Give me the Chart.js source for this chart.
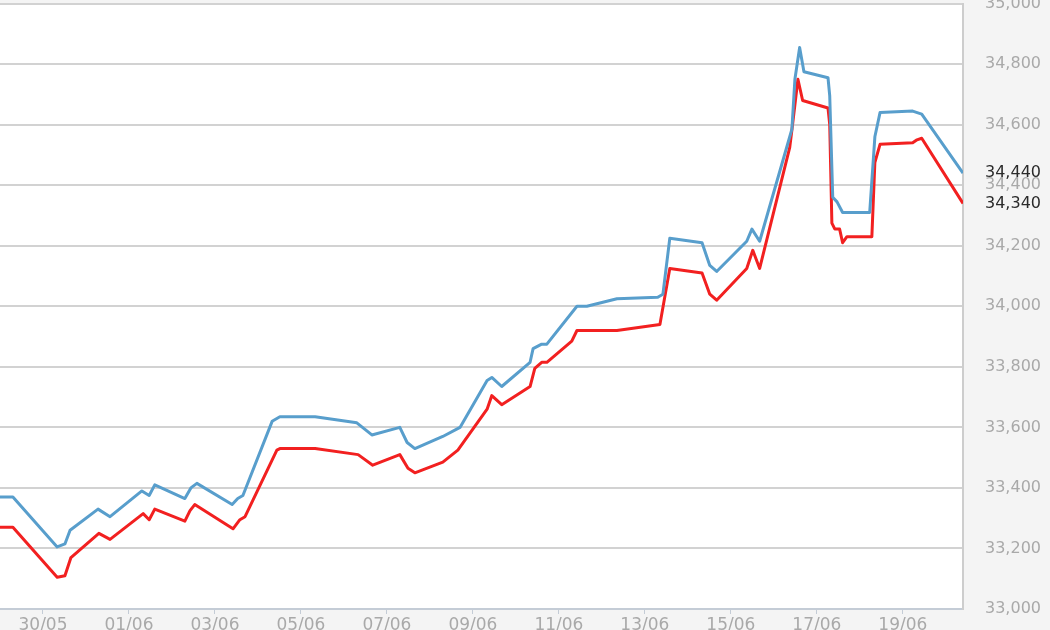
<!DOCTYPE html>
<html>
<head>
<meta charset="utf-8">
<script src="https://cdn.jsdelivr.net/npm/chart.js@4.4.1/dist/chart.umd.min.js"></script>
<style>
html, body { margin: 0; padding: 0; background: #f4f4f4; }
#wrap { position: relative; width: 1050px; height: 630px; overflow: hidden; }
#chart { position: absolute; left: 0; top: -6px; }
</style>
</head>
<body>
<div id="wrap"><canvas id="chart" width="1050" height="636"></canvas></div>
<script>
// x values are days counted from 30/05
var tickDays = [0, 2, 4, 6, 8, 10, 12, 14, 16, 18, 20];
var tickLabels = ['30/05', '01/06', '03/06', '05/06', '07/06', '09/06', '11/06', '13/06', '15/06', '17/06', '19/06'];

var blueDays = [-1, -0.7, 0.33, 0.51, 0.63, 1.28, 1.56, 2.3, 2.47, 2.6, 3.3, 3.44, 3.58, 4.4, 4.53, 4.65,
    5.33, 5.51, 6.33, 7.3, 7.65, 8.3, 8.47, 8.65, 9.3, 9.7, 10.33, 10.44, 10.67, 11.33, 11.4, 11.6, 11.72,
    12.42, 12.65, 13.35, 14.3, 14.42, 14.58, 15.33, 15.51, 15.67, 16.37, 16.49, 16.67, 17.42, 17.49, 17.6,
    17.7, 18.26, 18.3, 18.37, 18.47, 18.6, 18.7, 19.23, 19.35, 19.47, 20.23, 20.44, 21.4];
var blueValues = [33370, 33370, 33205, 33215, 33260, 33330, 33305, 33390, 33375, 33410, 33365, 33400, 33415, 33345, 33365, 33375,
    33620, 33635, 33635, 33615, 33575, 33600, 33550, 33530, 33570, 33600, 33755, 33765, 33735, 33815, 33860, 33875, 33875,
    34000, 34000, 34025, 34030, 34040, 34225, 34210, 34135, 34115, 34215, 34255, 34215, 34585, 34750, 34855,
    34775, 34755, 34695, 34360, 34345, 34310, 34310, 34310, 34560, 34640, 34645, 34635, 34440];

var redDays = [-1, -0.7, 0.33, 0.51, 0.65, 1.3, 1.56, 2.33, 2.47, 2.6, 3.3, 3.42, 3.53, 4.42, 4.58, 4.7,
    5.44, 5.51, 6.33, 7.33, 7.67, 8.3, 8.49, 8.65, 9.3, 9.65, 10.33, 10.44, 10.67, 11.33, 11.44, 11.6, 11.72,
    12.3, 12.42, 13.35, 14.35, 14.58, 15.33, 15.51, 15.67, 16.37, 16.51, 16.67, 17.37, 17.44, 17.56, 17.67,
    18.26, 18.3, 18.35, 18.42, 18.53, 18.6, 18.7, 19.28, 19.35, 19.47, 20.23, 20.33, 20.44, 21.4];
var redValues = [33270, 33270, 33105, 33110, 33170, 33250, 33230, 33315, 33295, 33330, 33290, 33325, 33345, 33265, 33295, 33305,
    33525, 33530, 33530, 33510, 33475, 33510, 33465, 33450, 33485, 33525, 33660, 33705, 33675, 33735, 33795, 33815, 33815,
    33885, 33920, 33920, 33940, 34125, 34110, 34040, 34020, 34125, 34185, 34125, 34525, 34605, 34750, 34680,
    34655, 34600, 34275, 34255, 34255, 34210, 34230, 34230, 34475, 34535, 34540, 34550, 34555, 34340];

function toPoints(days, values) {
    var pts = [];
    for (let i = 0; i < days.length; i++) pts.push({x: days[i], y: values[i]});
    return pts;
}

var fmt = function(v) { return Number(v).toLocaleString('en-US'); };

// white plot area on the grey page
var plotBackground = {
    id: 'plotBackground',
    beforeDraw: function(chart) {
        var a = chart.chartArea, ctx = chart.ctx;
        ctx.save();
        ctx.fillStyle = '#ffffff';
        ctx.fillRect(a.left, a.top, a.right - a.left, a.bottom - a.top);
        ctx.restore();
    }
};

// last value of each series written on the right axis
var lastValues = {
    id: 'lastValues',
    afterDraw: function(chart) {
        var ctx = chart.ctx, y = chart.scales.y;
        ctx.save();
        ctx.font = '16px "DejaVu Sans"';
        ctx.fillStyle = '#2a2a2a';
        ctx.textBaseline = 'middle';
        chart.data.datasets.forEach(function(ds) {
            var v = ds.data[ds.data.length - 1].y;
            ctx.fillText(fmt(v), y.left + 22, y.getPixelForValue(v));
        });
        ctx.restore();
    }
};

new Chart(document.getElementById('chart'), {
    type: 'line',
    data: {
        datasets: [
            {label: 'Blue', data: toPoints(blueDays, blueValues), borderColor: 'rgb(88,158,204)', borderWidth: 3},
            {label: 'Red', data: toPoints(redDays, redValues), borderColor: 'rgb(242,32,32)', borderWidth: 3}
        ]
    },
    options: {
        responsive: false,
        animation: false,
        layout: {padding: 0},
        elements: {point: {radius: 0}, line: {tension: 0, borderJoinStyle: 'round'}},
        plugins: {legend: {display: false}, tooltip: {enabled: false}},
        scales: {
            x: {
                type: 'linear',
                min: -1,
                max: 21.4,
                afterBuildTicks: function(scale) { scale.ticks = tickDays.map(function(d) { return {value: d}; }); },
                afterFit: function(scale) { scale.height = 21; },
                ticks: {
                    autoSkip: false,
                    maxRotation: 0,
                    padding: 1,
                    color: '#a9a9a9',
                    font: {family: 'DejaVu Sans', size: 17},
                    callback: function(v, i) { return tickLabels[i]; }
                },
                grid: {drawOnChartArea: false, drawTicks: true, tickLength: 5, color: '#c4ccd6', lineWidth: 1},
                border: {display: true, color: '#c4ccd6', width: 2}
            },
            y: {
                position: 'right',
                min: 33000,
                max: 35000,
                afterFit: function(scale) { scale.width = 87; },
                ticks: {
                    stepSize: 200,
                    padding: 0,
                    color: '#a9a9a9',
                    font: {family: 'DejaVu Sans', size: 16},
                    callback: function(v) { return fmt(v); }
                },
                grid: {drawTicks: true, tickLength: 22, tickColor: 'rgba(0,0,0,0)', color: '#d2d2d2', lineWidth: 2},
                border: {display: true, color: '#cdcdcd', width: 2}
            }
        }
    },
    plugins: [plotBackground, lastValues]
});
</script>
</body>
</html>
